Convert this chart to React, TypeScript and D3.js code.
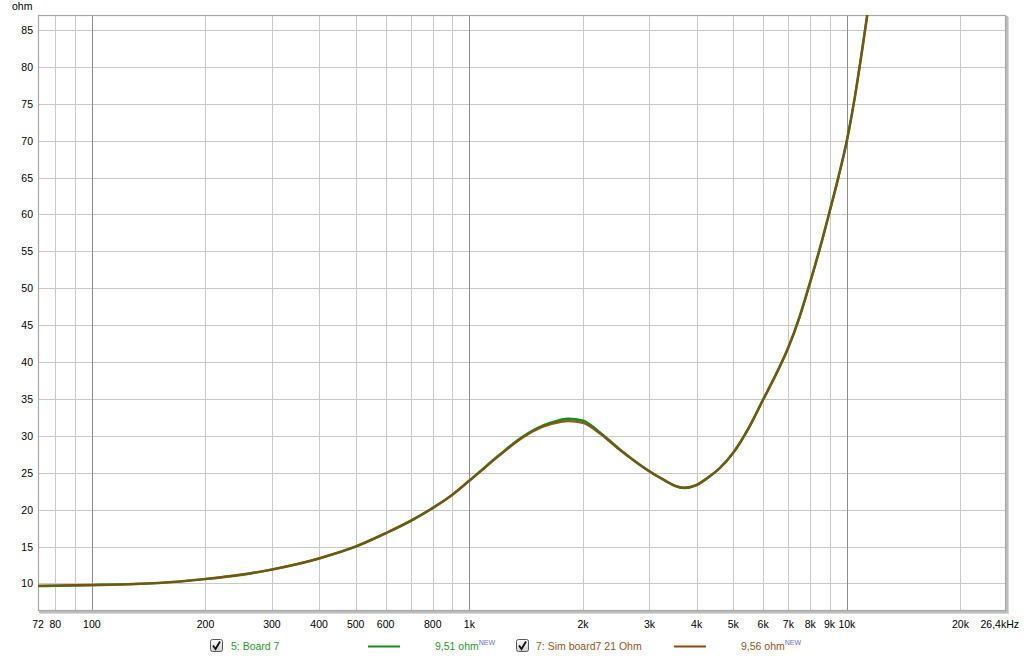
import React from "react";
import * as d3 from "d3";

// ---- data ----
const freqs = [72, 80, 100, 125, 150, 200, 250, 300, 400, 500, 600, 700, 800, 900, 1000, 1200, 1360, 1500, 1650, 1830, 2000, 2200, 2500, 3000, 3300, 3500, 3700, 4000, 4300, 4600, 5000, 5500, 6000, 6500, 7000, 7500, 8000, 8500, 9000, 9500, 10000, 10500, 11000, 11400, 12000];
const boardOhm = [9.66, 9.7, 9.78, 9.9, 10.06, 10.6, 11.2, 11.9, 13.4, 15.0, 16.8, 18.5, 20.25, 22.0, 23.95, 27.4, 29.6, 30.95, 31.8, 32.3, 32.05, 30.6, 28.2, 25.2, 23.95, 23.25, 22.95, 23.35, 24.4, 25.6, 27.7, 31.1, 34.9, 38.4, 42.0, 46.2, 50.9, 55.6, 60.4, 65.1, 70.0, 75.9, 82.6, 88.0, 96.0];
const simOhm = [9.68, 9.72, 9.8, 9.9, 10.06, 10.6, 11.2, 11.9, 13.4, 15.0, 16.8, 18.5, 20.2, 22.0, 23.9, 27.3, 29.5, 30.8, 31.6, 32.0, 31.75, 30.45, 28.1, 25.2, 23.95, 23.25, 22.95, 23.35, 24.4, 25.6, 27.7, 31.1, 34.9, 38.4, 41.95, 46.1, 50.8, 55.5, 60.3, 65.0, 70.0, 75.9, 82.6, 88.1, 96.2];

const yTicks = [10, 15, 20, 25, 30, 35, 40, 45, 50, 55, 60, 65, 70, 75, 80, 85];
const xGrid = [80, 90, 100, 200, 300, 400, 500, 600, 700, 800, 900, 1000, 2000, 3000, 4000, 5000, 6000, 7000, 8000, 9000, 10000, 20000];
const decadeLines = [100, 1000, 10000];
const xLabels: [number, string][] = [
  [72, "72"], [80, "80"], [100, "100"], [200, "200"], [300, "300"], [400, "400"], [500, "500"], [600, "600"], [800, "800"],
  [1000, "1k"], [2000, "2k"], [3000, "3k"], [4000, "4k"], [5000, "5k"], [6000, "6k"], [7000, "7k"], [8000, "8k"], [9000, "9k"], [10000, "10k"], [20000, "20k"],
];
const xEndLabel = "26,4kHz";

const series = [
  { name: "5: Board 7", value: "9,51 ohm", color: "#1c8c1c", text: "#2a9a2a", data: boardOhm },
  { name: "7: Sim board7 21 Ohm", value: "9,56 ohm", color: "#8a4b0c", text: "#94561a", data: simOhm },
];

const W = 1024, H = 661;
const L = 38, T = 15, R = 1006, B = 611;
const FONT = "'Liberation Sans', Arial, sans-serif";

export default function App() {
  const x = d3.scaleLog().domain([72, 26400]).range([L, R]);
  const y = d3.scaleLinear().domain([6.27, 87.03]).range([B, T]);
  const line = (vals: number[]) =>
    d3.line<number>()
      .x((_, i) => x(freqs[i]))
      .y((v) => y(v))
      .curve(d3.curveMonotoneX)(vals) as string;

  const legendPos = [
    { cb: 210.5, name: 231, ln: [368, 400], val: 435 },
    { cb: 516.5, name: 536, ln: [674, 706], val: 741 },
  ];

  return (
    <svg width={W} height={H} style={{ position: "absolute", left: 0, top: 0, display: "block", background: "#fff" }} fontFamily={FONT}>
      <defs>
        <clipPath id="plotClip">
          <rect x={L} y={T} width={R - L} height={B - T} />
        </clipPath>
        <linearGradient id="cbGrad" x1="0" y1="0" x2="0" y2="1">
          <stop offset="0" stopColor="#fbfbfb" />
          <stop offset="1" stopColor="#cfcfcf" />
        </linearGradient>
      </defs>
      {/* frame shadow */}
      <rect x={L + 2} y={T + 2} width={R - L + 1} height={B - T + 1} fill="#d8d8d8" />
      <rect x={L + 1} y={T + 1} width={R - L + 1} height={B - T + 1} fill="#bcbcbc" />
      <rect x={L} y={T} width={R - L} height={B - T} fill="#fff" />
      {/* horizontal grid */}
      {yTicks.map((t) => (
        <line key={"h" + t} x1={L} x2={R} y1={Math.round(y(t)) + 0.5} y2={Math.round(y(t)) + 0.5} stroke="#c8c8c8" strokeWidth={1} />
      ))}
      {/* vertical grid */}
      {xGrid.map((f) => (
        <line key={"v" + f} x1={Math.round(x(f)) + 0.5} x2={Math.round(x(f)) + 0.5} y1={T} y2={B}
          stroke={decadeLines.includes(f) ? "#8c8c8c" : "#c8c8c8"} strokeWidth={1} />
      ))}
      <rect x={L + 0.5} y={T + 0.5} width={R - L - 1} height={B - T - 1} fill="none" stroke="#a8a8a8" strokeWidth={1.2} />
      {/* curves */}
      <g clipPath="url(#plotClip)" fill="none" strokeLinejoin="round" strokeLinecap="round">
        <path d={line(series[0].data)} stroke={series[0].color} strokeWidth={2.6} />
        <path d={line(series[1].data)} stroke={series[1].color} strokeWidth={2.1} strokeOpacity={0.92} />
      </g>
      {/* y labels */}
      <text x={12} y={10} fontSize={10.5} fill="#000">ohm</text>
      {yTicks.map((t) => (
        <text key={"yl" + t} x={33} y={y(t) + 4} textAnchor="end" fontSize={10.5} fill="#000">{t}</text>
      ))}
      {/* x labels */}
      {xLabels.map(([f, s]) => (
        <text key={"xl" + f} x={x(f)} y={628} textAnchor="middle" fontSize={10.5} fill="#000">{s}</text>
      ))}
      <text x={1019} y={628} textAnchor="end" fontSize={10.5} fill="#000">{xEndLabel}</text>
      {/* legend */}
      {series.map((s, i) => {
        const p = legendPos[i];
        return (
          <g key={"lg" + i}>
            <rect x={p.cb} y={639.5} width={12} height={12} rx={2} fill="url(#cbGrad)" stroke="#5a5a5a" strokeWidth={1} />
            <path d={`M${p.cb + 2.5},${645.5} L${p.cb + 5},${649} L${p.cb + 9.5},${641.5}`} fill="none" stroke="#111" strokeWidth={1.8} />
            <text x={p.name} y={650} fontSize={10.5} fill={s.text}>{s.name}</text>
            <line x1={p.ln[0]} x2={p.ln[1]} y1={646.5} y2={646.5} stroke={s.color} strokeWidth={2} />
            <text x={p.val} y={650} fontSize={10.5} fill={s.text}>
              {s.value}
              <tspan dy={-5} fontSize={7} fill="#6a6af0">NEW</tspan>
            </text>
          </g>
        );
      })}
    </svg>
  );
}
